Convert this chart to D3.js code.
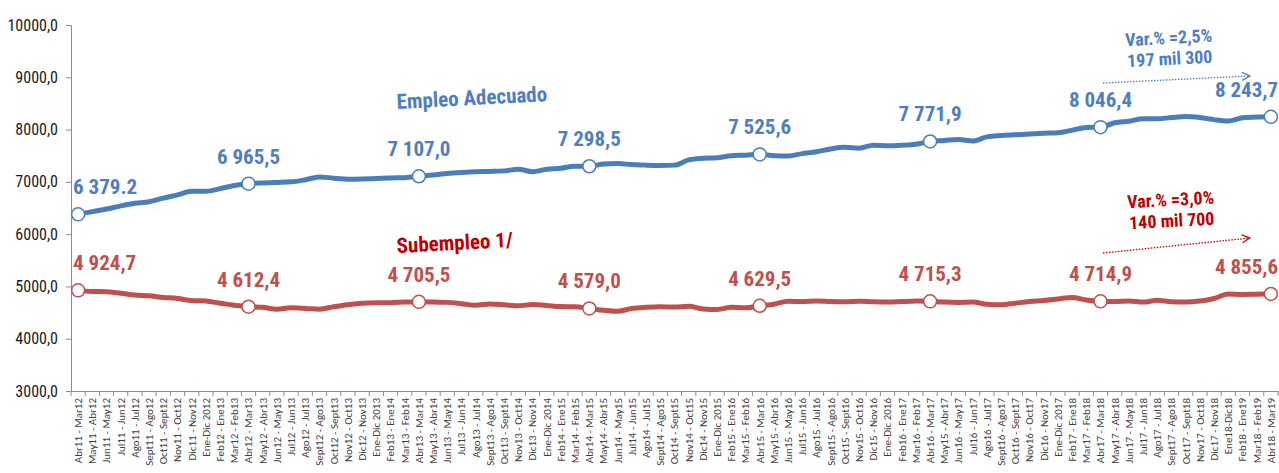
<!DOCTYPE html>
<html>
<head>
<meta charset="utf-8">
<script src="https://cdn.jsdelivr.net/npm/d3@7/dist/d3.min.js"></script>
<style>
  html, body { margin: 0; padding: 0; background: #ffffff; }
  svg { display: block; }
  .narrow { font-family: "Liberation Sans Narrow", "Arial Narrow", "Roboto Condensed", sans-serif; }
</style>
</head>
<body>
<svg id="chart" width="1279" height="473"></svg>
<script>
const categories = [
  "Abr11 - Mar12","May11 - Abr12","Jun11 - May12","Jul11 - Jun12","Ago11 - Jul12","Sept11 - Ago12",
  "Oct11 - Sept12","Nov11 - Oct12","Dic11 - Nov12","Ene-Dic 2012","Feb12 - Ene13","Mar12 - Feb13",
  "Abr12 - Mar13","May12 - Abr13","Jun12 - May13","Jul12 - Jun13","Ago12 - Jul13","Sept12 - Ago13",
  "Oct12 - Sept13","Nov12 - Oct13","Dic12 - Nov13","Ene-Dic 2013","Feb13 - Ene14","Mar13 - Feb14",
  "Abr13 - Mar14","May13 - Abr14","Jun13 - May14","Jul13 - Jun14","Ago13 - Jul14","Sept13 - Ago14",
  "Oct13 - Sept14","Nov13 - Oct14","Dic13 - Nov14","Ene-Dic 2014","Feb14 - Ene15","Mar14 - Feb15",
  "Abr14 - Mar15","May14 - Abr15","Jun14 - May15","Jul14 - Jun15","Ago14 - Jul15","Sept14 - Ago15",
  "Oct14 - Sept15","Nov14 - Oct15","Dic14 - Nov15","Ene-Dic 2015","Feb15 - Ene16","Mar15 - Feb16",
  "Abr15 - Mar16","May15 - Abr16","Jun15 - May16","Jul15 - Jun16","Ago15 - Jul16","Sept15 - Ago16",
  "Oct15 - Sept16","Nov15 - Oct16","Dic15 - Nov16","Ene-Dic 2016","Feb16 - Ene17","Mar16 - Feb17",
  "Abr16 - Mar17","May15 - Abr17","Jun16 - May17","Jul16 - Jun17","Ago16 - Jul17","Sept16 - Ago17",
  "Oct16 - Sept17","Nov16 - Oct17","Dic16 - Nov17","Ene-Dic 2017","Feb17 - Ene18","Mar17 - Feb18",
  "Abr17 - Mar18","May17 - Abr18","Jun17 - May18","Jul17 - Jun18","Ago17 - Jul18","Sept17 - Ago18",
  "Oct17 - Sept18","Nov17 - Oct18","Dic17 - Nov18","Ene18-Dic18","Feb18 - Ene19","Mar18 - Feb19",
  "Abr18 - Mar19"
];

const empleoAdecuado = [
  6379.2, 6430, 6480, 6540, 6590, 6620, 6690, 6750, 6820, 6820, 6870, 6930,
  6965.5, 6980, 6990, 7000, 7040, 7095, 7070, 7050, 7055, 7065, 7075, 7080,
  7107.0, 7130, 7160, 7180, 7195, 7200, 7210, 7240, 7195, 7240, 7260, 7300,
  7298.5, 7340, 7350, 7330, 7320, 7315, 7320, 7420, 7450, 7460, 7500, 7510,
  7525.6, 7500, 7495, 7540, 7575, 7630, 7660, 7645, 7700, 7690, 7700, 7720,
  7771.9, 7790, 7810, 7780, 7860, 7885, 7900, 7915, 7930, 7940, 7990, 8040,
  8046.4, 8130, 8160, 8205, 8205, 8230, 8250, 8230, 8190, 8165, 8225, 8240,
  8243.7
];

const subempleo = [
  4924.7, 4905, 4900, 4870, 4835, 4820, 4790, 4770, 4730, 4720, 4680, 4640,
  4612.4, 4600, 4565, 4590, 4580, 4565, 4610, 4650, 4680, 4690, 4690, 4700,
  4705.5, 4700, 4695, 4670, 4640, 4665, 4650, 4630, 4655, 4635, 4615, 4610,
  4579.0, 4545, 4525, 4580, 4600, 4610, 4605, 4620, 4570, 4560, 4600, 4590,
  4629.5, 4660, 4715, 4710, 4720, 4710, 4705, 4715, 4705, 4700, 4710, 4720,
  4715.3, 4700, 4695, 4700, 4660, 4650, 4680, 4710, 4730, 4760, 4790, 4740,
  4714.9, 4710, 4720, 4700, 4735, 4705, 4700, 4720, 4770, 4855, 4845, 4850,
  4855.6
];

const yTicks = [3000, 4000, 5000, 6000, 7000, 8000, 9000, 10000];
const markerIndex = [0, 12, 24, 36, 48, 60, 72, 84];
const empleoLabels = ["6 379.2","6 965,5","7 107,0","7 298,5","7 525,6","7 771,9","8 046,4","8 243,7"];
const subempleoLabels = ["4 924,7","4 612,4","4 705,5","4 579,0","4 629,5","4 715,3","4 714,9","4 855,6"];

const BLUE = "#4A7EBB", BLUE_TXT = "#4F7EBF";
const RED = "#C0504D", RED_TXT = "#C0504D", DARKRED = "#C00000";

const svg = d3.select("#chart");
const step = 14.2;
const x = d3.scaleBand().domain(categories).range([71, 71 + categories.length * step]).padding(0);
const cx = d => x(d) + x.bandwidth() / 2;
const y = d3.scaleLinear().domain([3000, 10000]).range([391, 25]);

// Y axis
const yAxis = svg.append("g").attr("transform", "translate(71,0)")
  .call(d3.axisLeft(y).tickValues(yTicks).tickSize(5).tickPadding(8)
    .tickFormat(d => d3.format(".1f")(d).replace(".", ",")));
yAxis.select(".domain").attr("stroke", "#8c8c8c");
yAxis.selectAll(".tick line").attr("stroke", "#8c8c8c");
yAxis.selectAll(".tick text").attr("class", "narrow").attr("font-size", 16).attr("fill", "#1a1a1a");

// X axis
const xAxis = svg.append("g").attr("transform", "translate(0,391)")
  .call(d3.axisBottom(x).tickSize(0).tickPadding(0));
xAxis.select(".domain").attr("stroke", "#8c8c8c");
xAxis.selectAll(".tick text")
  .attr("font-family", "Carlito, 'Open Sans', 'Liberation Sans', sans-serif")
  .attr("font-size", 11).attr("fill", "#404040")
  .attr("text-anchor", "end")
  .attr("transform", "rotate(-90)")
  .attr("x", -7).attr("y", 0).attr("dy", "0.35em");
const bounds = categories.map(c => x(c)).concat([x(categories[categories.length - 1]) + x.bandwidth()]);
svg.append("g").selectAll("line").data(bounds).join("line")
  .attr("x1", d => d).attr("x2", d => d).attr("y1", 391).attr("y2", 396)
  .attr("stroke", "#8c8c8c");

// Lines
const line = d3.line().x((d, i) => cx(categories[i])).y(d => y(d)).curve(d3.curveMonotoneX);
svg.append("path").datum(subempleo).attr("d", line)
  .attr("fill", "none").attr("stroke", RED).attr("stroke-width", 5).attr("stroke-linejoin", "round");
svg.append("path").datum(empleoAdecuado).attr("d", line)
  .attr("fill", "none").attr("stroke", BLUE).attr("stroke-width", 5).attr("stroke-linejoin", "round");

// Markers
function markers(series, color) {
  svg.append("g").selectAll("circle").data(markerIndex).join("circle")
    .attr("cx", i => cx(categories[i])).attr("cy", i => y(series[i])).attr("r", 6.5)
    .attr("fill", "#ffffff").attr("stroke", color).attr("stroke-width", 1.5);
}
markers(subempleo, RED);
markers(empleoAdecuado, BLUE);

// Data labels
function labels(series, texts, color) {
  svg.append("g").selectAll("text").data(markerIndex).join("text")
    .attr("class", "narrow")
    .attr("x", (idx, k) => {
      const px = cx(categories[idx]);
      if (k === 0) return px - 5;
      if (k === markerIndex.length - 1) return 1278;
      return px;
    })
    .attr("y", idx => y(series[idx]) - 20)
    .attr("text-anchor", (idx, k) => k === 0 ? "start" : (k === markerIndex.length - 1 ? "end" : "middle"))
    .attr("font-size", 21).attr("font-weight", "bold").attr("fill", color)
    .text((idx, k) => texts[k]);
}
labels(empleoAdecuado, empleoLabels, BLUE_TXT);
labels(subempleo, subempleoLabels, RED_TXT);

// Series names
svg.append("text").attr("class", "narrow")
  .attr("transform", "translate(397,109) rotate(-3)")
  .attr("font-size", 21).attr("font-weight", "bold").attr("fill", BLUE_TXT)
  .text("Empleo Adecuado");
svg.append("text").attr("class", "narrow")
  .attr("transform", "translate(397,253) rotate(-3)")
  .attr("font-size", 21).attr("font-weight", "bold").attr("fill", DARKRED)
  .text("Subempleo 1/");

// Variation annotations
const defs = svg.append("defs");
function arrowMarker(id, color) {
  defs.append("marker").attr("id", id).attr("viewBox", "0 0 10 10")
    .attr("refX", 9).attr("refY", 5).attr("markerWidth", 10).attr("markerHeight", 10)
    .attr("markerUnits", "userSpaceOnUse").attr("orient", "auto")
    .append("path").attr("d", "M1,1 L9,5 L1,9").attr("fill", "none")
    .attr("stroke", color).attr("stroke-width", 1.2);
}
arrowMarker("arrBlue", BLUE);
arrowMarker("arrRed", DARKRED);

svg.append("line").attr("x1", 1103).attr("y1", 83).attr("x2", 1250).attr("y2", 76)
  .attr("stroke", BLUE).attr("stroke-width", 1.3).attr("stroke-dasharray", "1.5,1.5")
  .attr("marker-end", "url(#arrBlue)");
svg.append("line").attr("x1", 1103).attr("y1", 253).attr("x2", 1250).attr("y2", 238)
  .attr("stroke", DARKRED).attr("stroke-width", 1.3).attr("stroke-dasharray", "1.5,1.5")
  .attr("marker-end", "url(#arrRed)");

function note(lines, xPos, yPos, color) {
  const t = svg.append("text").attr("class", "narrow")
    .attr("transform", `translate(${xPos},${yPos}) rotate(-3)`)
    .attr("text-anchor", "middle").attr("font-size", 18).attr("font-weight", "bold").attr("fill", color);
  lines.forEach((s, i) => t.append("tspan").attr("x", 0).attr("dy", i === 0 ? 0 : 21).text(s));
}
note(["Var.% =2,5%", "197 mil 300"], 1169, 44, BLUE_TXT);
note(["Var.% =3,0%", "140 mil 700"], 1171, 206, DARKRED);
</script>
</body>
</html>
